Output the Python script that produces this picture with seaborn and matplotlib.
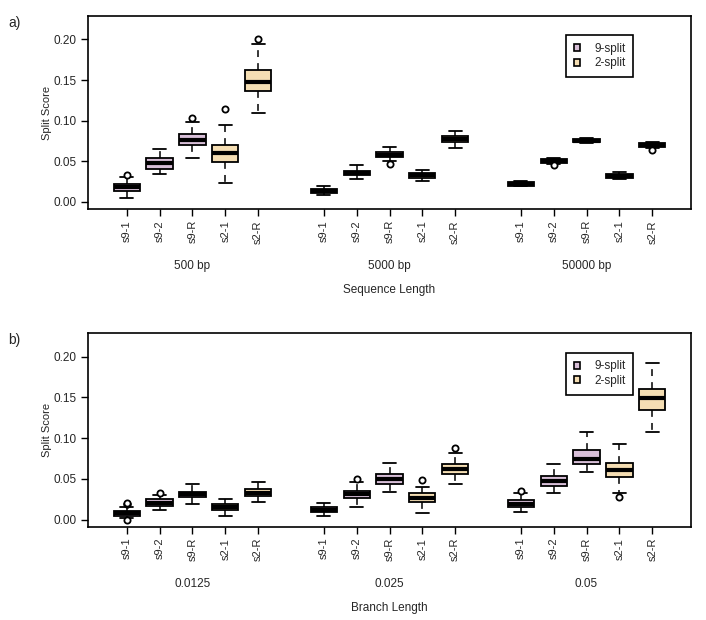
import numpy as np
import pandas as pd
import matplotlib
matplotlib.use("Agg")
import matplotlib.pyplot as plt
from matplotlib.patches import Patch
import seaborn as sns

# ---------------- data ----------------
box_labels = ['s9-1', 's9-2', 's9-R', 's2-1', 's2-R']
splits = ['9-split', '9-split', '9-split', '2-split', '2-split']
a_groups = ['500 bp', '5000 bp', '50000 bp']
b_groups = ['0.0125', '0.025', '0.05']

# panel a: five-number summaries (lower whisker, Q1, median, Q3, upper whisker)
a_lo = [0.0053, 0.0340, 0.0543, 0.0226, 0.1090, 0.0082, 0.0280, 0.0506, 0.0251, 0.0663, 0.0189, 0.0469, 0.0724, 0.0280, 0.0667]
a_q1 = [0.0136, 0.0407, 0.0700, 0.0490, 0.1360, 0.0111, 0.0325, 0.0547, 0.0296, 0.0737, 0.0193, 0.0477, 0.0733, 0.0292, 0.0679]
a_med = [0.0177, 0.0477, 0.0765, 0.0600, 0.1480, 0.0133, 0.0354, 0.0580, 0.0325, 0.0774, 0.0220, 0.0500, 0.0753, 0.0320, 0.0705]
a_q3 = [0.0218, 0.0535, 0.0831, 0.0700, 0.1620, 0.0156, 0.0383, 0.0613, 0.0354, 0.0811, 0.0247, 0.0527, 0.0774, 0.0346, 0.0728]
a_hi = [0.0300, 0.0650, 0.0980, 0.0947, 0.1947, 0.0198, 0.0449, 0.0671, 0.0395, 0.0877, 0.0255, 0.0535, 0.0790, 0.0362, 0.0740]
a_out_box = [0, 2, 3, 4, 7, 11, 14]
a_out_val = [0.0325, 0.1037, 0.1148, 0.2004, 0.0465, 0.0449, 0.0642]

# panel b
b_lo = [0.0016, 0.0115, 0.0197, 0.0041, 0.0213, 0.0045, 0.0160, 0.0340, 0.0078, 0.0435, 0.0098, 0.0332, 0.0586, 0.0324, 0.1074]
b_q1 = [0.0049, 0.0164, 0.0275, 0.0115, 0.0287, 0.0094, 0.0267, 0.0439, 0.0213, 0.0554, 0.0152, 0.0410, 0.0681, 0.0525, 0.1345]
b_med = [0.0078, 0.0205, 0.0312, 0.0148, 0.0330, 0.0123, 0.0312, 0.0492, 0.0267, 0.0619, 0.0197, 0.0472, 0.0742, 0.0607, 0.1488]
b_q3 = [0.0103, 0.0254, 0.0344, 0.0185, 0.0377, 0.0148, 0.0348, 0.0554, 0.0324, 0.0681, 0.0234, 0.0529, 0.0853, 0.0697, 0.1600]
b_hi = [0.0156, 0.0300, 0.0435, 0.0250, 0.0463, 0.0205, 0.0467, 0.0693, 0.0402, 0.0812, 0.0320, 0.0681, 0.1074, 0.0927, 0.1927]
b_out_box = [0, 0, 0, 0, 1, 6, 8, 9, 10, 13]
b_out_val = [0.0185, 0.0195, 0.0205, -0.0010, 0.0324, 0.0492, 0.0480, 0.0877, 0.0353, 0.0283]

# ---------------- style ----------------
sns.set_style("ticks")
plt.rcParams['font.family'] = ['Liberation Sans', 'DejaVu Sans']
plt.rcParams['font.size'] = 8

palette = {'9-split': '#D8BFD8', '2-split': '#F5DEB3'}
positions = [1, 2, 3, 4, 5, 7, 8, 9, 10, 11, 13, 14, 15, 16, 17]
W, H = 706, 620

fig = plt.figure(figsize=(W / 100, H / 100), dpi=100)


def fx(px):
    return px / W


def fy(py):
    return 1 - py / H


def panel(top_px, bot_px, lo, q1, med, q3, hi, out_box, out_val, groups, xtitle, letter, leg_top):
    ax = fig.add_axes([fx(88), fy(bot_px), fx(691) - fx(88), fy(top_px) - fy(bot_px)])
    n = len(lo)
    df = pd.DataFrame({
        'pos': np.repeat(positions[:n], 5),
        'value': np.column_stack([lo, q1, med, q3, hi]).ravel(),
        'split': np.repeat((splits * 3)[:n], 5),
    })
    sns.boxplot(data=df, x='pos', y='value', hue='split', palette=palette, saturation=1,
                native_scale=True, dodge=False, whis=(0, 100), width=0.8,
                linecolor='black', linewidth=1.3, fliersize=0, legend=False,
                medianprops={'linewidth': 3.0, 'color': 'black'},
                whiskerprops={'linestyle': (0, (4.5, 4.0)), 'linewidth': 1.1},
                capprops={'linewidth': 1.3},
                ax=ax)
    sns.scatterplot(x=[positions[i] for i in out_box], y=out_val, marker='o', s=20,
                    facecolor='white', edgecolor='black', linewidth=1.3, ax=ax, zorder=6)
    ax.set_xlim(-0.18, 18.18)
    ax.set_ylim(-0.0088, 0.2288)
    ax.set_yticks([0, 0.05, 0.10, 0.15, 0.20])
    ax.set_yticklabels(['0.00', '0.05', '0.10', '0.15', '0.20'], fontsize=8.5)
    ax.set_xticks(positions)
    ax.set_xticklabels(box_labels * 3, rotation=90, fontsize=8)
    ax.tick_params(axis='both', direction='out', length=5, width=1, color='black', pad=3)
    ax.set_xlabel('')
    ax.set_ylabel('Split Score', fontsize=8, labelpad=1.5)
    for s in ax.spines.values():
        s.set_visible(True)
        s.set_linewidth(1.2)
        s.set_color('black')
    # group labels
    for g, c in zip(groups, [3, 9, 15]):
        ax.text(c, -0.0088 - (57 / 810), g, ha='center', va='center', fontsize=8.5,
                transform=ax.transData)
    ax.text(9, -0.0088 - (81 / 810), xtitle, ha='center', va='center', fontsize=8.5,
            transform=ax.transData, clip_on=False)
    fig.text(fx(8), fy(top_px + 7), letter, ha='left', va='center', fontsize=10)
    handles = [Patch(facecolor=palette['9-split'], edgecolor='black', linewidth=1.2, label='9-split'),
               Patch(facecolor=palette['2-split'], edgecolor='black', linewidth=1.2, label='2-split')]
    leg = ax.legend(handles=handles, loc='upper left', bbox_to_anchor=(fx(566), fy(leg_top)),
                    bbox_transform=fig.transFigure, borderaxespad=0, fancybox=False,
                    edgecolor='black', framealpha=1, fontsize=8.5, handlelength=0.55,
                    handleheight=0.55, handletextpad=1.2, labelspacing=0.22, borderpad=0.65)
    leg.get_frame().set_linewidth(1.2)
    return ax


panel(16, 209, a_lo, a_q1, a_med, a_q3, a_hi, a_out_box, a_out_val, a_groups,
      'Sequence Length', 'a)', 35)
panel(333.3, 526.7, b_lo, b_q1, b_med, b_q3, b_hi, b_out_box, b_out_val, b_groups,
      'Branch Length', 'b)', 352.7)

fig.savefig('out.png', dpi=100)
